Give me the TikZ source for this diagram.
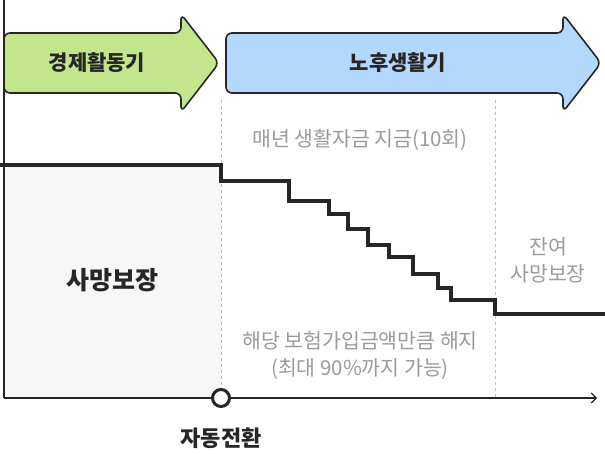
\documentclass[tikz,border=0pt]{standalone}
\usepackage{fontspec}
\setmainfont{Noto Sans CJK KR}
\usetikzlibrary{arrows.meta}
\definecolor{phasegreen}{HTML}{C3E68D}
\definecolor{phaseblue}{HTML}{B3D8FB}
\definecolor{txtgray}{HTML}{9A9A9A}
\begin{document}
\begin{tikzpicture}
[x=1pt, y=-1pt,
 phase/.style={draw=black!85, line width=1.6pt, rounded corners=6pt, line join=round},
 guide/.style={draw=black!25, dashed, line width=1pt},
 title/.style={font=\fontsize{21}{24}\selectfont\bfseries, text=black!85},
 note/.style={font=\fontsize{20.5}{27}\selectfont, text=txtgray, align=center},
 stairs/.style={draw=black!85, line width=4pt, line join=miter}]
    \useasboundingbox (0,0) rectangle (605,454);
    % shaded area
    \fill[black!3] (4,165) rectangle (221,398);
    % guides
    \draw[guide] (221,100) -- (221,390);
    \draw[guide] (495,100) -- (495,398);
    % phase arrows
    \path[phase, fill=phasegreen] (4,33) -- (181,33) -- (181,14) -- (219,63) -- (181,112) -- (181,93) -- (4,93) -- cycle;
    \path[phase, fill=phaseblue] (226,33) -- (563,33) -- (563,14) -- (601,63) -- (563,112) -- (563,93) -- (226,93) -- cycle;
    \node[title] (work) at (97,63) {경제활동기};
    \node[title] (retire) at (398,63) {노후생활기};
    % axes
    \coordinate (origin) at (4,398);
    \coordinate (yend) at (4,0);
    \coordinate (xend) at (597,398);
    \draw[line width=1.2pt, black!85] (yend) -- (origin);
    \draw[line width=1.2pt, black!85, -{Straight Barb[length=5pt, width=10pt]}] (origin) -- (xend);
    % staircase
    \draw[stairs] (0,165) -- (221,165) -- (221,181) -- (289,181) -- (289,201) -- (329,201) -- (329,214)
      -- (348,214) -- (348,229) -- (368,229) -- (368,245) -- (389,245) -- (389,257) -- (413,257)
      -- (413,274) -- (438,274) -- (438,288) -- (451,288) -- (451,300) -- (495,300) -- (495,314) -- (605,314);
    % switch point
    \node[circle, draw=black!85, fill=white, line width=3pt, minimum size=17pt, inner sep=0pt] (switch) at (221,398) {};
    \node[title, font=\fontsize{22}{24}\selectfont\bfseries] (switchlabel) at (221,438) {자동전환};
    % labels
    \node[note] (annual) at (360,140) {매년 생활자금 지금(10회)};
    \node[title, font=\fontsize{25}{28}\selectfont\bfseries] (death) at (112,280) {사망보장};
    \node[note] (remain) at (548,260) {잔여\\사망보장};
    \node[note] (cancel) at (360,355) {해당 보험가입금액만큼 해지\\(최대 90\%까지 가능)};
\end{tikzpicture}
\end{document}
